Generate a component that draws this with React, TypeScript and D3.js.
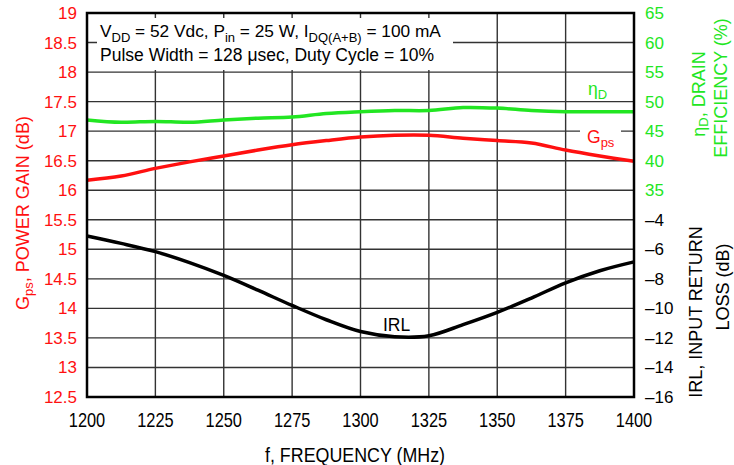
import React from "react";
import * as d3 from "d3";

const freq = [1200, 1212.5, 1225, 1237.5, 1250, 1262.5, 1275, 1287.5, 1300, 1312.5, 1325, 1337.5, 1350, 1362.5, 1375, 1387.5, 1400];
const gps = [16.17, 16.24, 16.37, 16.48, 16.58, 16.68, 16.77, 16.84, 16.9, 16.93, 16.93, 16.88, 16.84, 16.8, 16.68, 16.58, 16.49];
const eff = [46.9, 46.5, 46.65, 46.5, 46.9, 47.2, 47.4, 48.0, 48.3, 48.5, 48.5, 49.0, 48.9, 48.5, 48.3, 48.3, 48.3];
const irl = [-5.1, -5.6, -6.16, -6.9, -7.77, -8.77, -9.8, -10.77, -11.57, -11.92, -11.85, -11.1, -10.27, -9.3, -8.27, -7.45, -6.85];

const xTicks = [1200, 1225, 1250, 1275, 1300, 1325, 1350, 1375, 1400];
const gpsTicks = [12.5, 13, 13.5, 14, 14.5, 15, 15.5, 16, 16.5, 17, 17.5, 18, 18.5, 19];
const effTicks = [35, 40, 45, 50, 55, 60, 65];
const irlTicks = [-16, -14, -12, -10, -8, -6, -4];

const RED = "#ff1010";
const GREEN = "#22e622";
const FONT = "'Liberation Sans', Arial, Helvetica, sans-serif";

const L = 87, R = 634, T = 13, B = 397;

export default function App() {
  const x = d3.scaleLinear().domain([1200, 1400]).range([L, R]);
  const yG = d3.scaleLinear().domain([12.5, 19]).range([B, T]);
  const yE = d3.scaleLinear().domain([0, 65]).range([B, T]);
  const yI = d3.scaleLinear().domain([-16, 10]).range([B, T]);

  const mk = (vals: number[], ys: d3.ScaleLinear<number, number>) =>
    d3.line<number>().x((_, i) => x(freq[i])).y((v) => ys(v)).curve(d3.curveCatmullRom.alpha(0.5))(vals) || "";

  const fmt = (v: number) => (v < 0 ? "\u2013" + Math.abs(v) : String(v));

  return (
    <svg width={734} height={465} style={{ position: "absolute", left: 0, top: 0, background: "#fff" }} fontFamily={FONT}>
      <rect x={0} y={0} width={734} height={465} fill="#fff" />
      {/* grid */}
      {xTicks.map((t) => (
        <line key={"vx" + t} x1={x(t)} x2={x(t)} y1={T} y2={B} stroke="#333" strokeWidth={1.4} />
      ))}
      {gpsTicks.map((t) => (
        <line key={"hy" + t} x1={L} x2={R} y1={yG(t)} y2={yG(t)} stroke="#333" strokeWidth={1.4} />
      ))}
      {/* legend box */}
      <rect x={97} y={18} width={356} height={52} fill="#fff" />
      <text x={100} y={37} fontSize={17.3} fill="#000">
        V<tspan fontSize={13} dy={4.5}>DD</tspan>
        <tspan dy={-4.5}> = 52 Vdc, P</tspan>
        <tspan fontSize={13} dy={4.5}>in</tspan>
        <tspan dy={-4.5}> = 25 W, I</tspan>
        <tspan fontSize={13} dy={4.5}>DQ(A+B)</tspan>
        <tspan dy={-4.5}> = 100 mA</tspan>
      </text>
      <text x={100} y={61} fontSize={17.5} fill="#000">
        Pulse Width = 128 {"\u03bc"}sec, Duty Cycle = 10%
      </text>
      {/* curve labels */}
      <rect x={580} y={123} width={41} height={24} fill="#fff" />
      <text x={587} y={143} fontSize={17.5} fill={RED}>
        G<tspan fontSize={13} dy={4}>ps</tspan>
      </text>
      <text x={588} y={95} fontSize={17.5} fill={GREEN}>
        {"\u03b7"}<tspan fontSize={13} dy={4}>D</tspan>
      </text>
      <text x={383} y={331} fontSize={17.5} fill="#000">IRL</text>
      {/* curves */}
      <path d={mk(eff, yE)} fill="none" stroke={GREEN} strokeWidth={3.5} />
      <path d={mk(gps, yG)} fill="none" stroke={RED} strokeWidth={3.5} />
      <path d={mk(irl, yI)} fill="none" stroke="#000" strokeWidth={3.5} />
      {/* frame */}
      <rect x={L} y={T} width={R - L} height={B - T} fill="none" stroke="#000" strokeWidth={2.5} />
      {/* left ticks */}
      {gpsTicks.map((t) => (
        <text key={"lg" + t} x={77} y={yG(t) + 6} fontSize={17} fill={RED} textAnchor="end">
          {t}
        </text>
      ))}
      {effTicks.map((t) => (
        <text key={"re" + t} x={645} y={yE(t) + 6} fontSize={17} fill={GREEN}>
          {t}
        </text>
      ))}
      {irlTicks.map((t) => (
        <text key={"ri" + t} x={645} y={yI(t) + 6} fontSize={17} fill="#000">
          {fmt(t)}
        </text>
      ))}
      {xTicks.map((t) => (
        <g key={"xt" + t} transform={`translate(${x(t)},427) scale(0.82,1)`}>
          <text x={0} y={0} fontSize={20} fill="#000" textAnchor="middle">
            {t}
          </text>
        </g>
      ))}
      {/* axis titles */}
      <g transform="translate(355,462) scale(0.85,1)">
        <text x={0} y={0} fontSize={21} fill="#000" textAnchor="middle">
          f, FREQUENCY (MHz)
        </text>
      </g>
      <text transform="translate(29,213) rotate(-90)" fontSize={18} fill={RED} textAnchor="middle">
        G<tspan fontSize={13} dy={4}>ps</tspan>
        <tspan dy={-4}>, POWER GAIN (dB)</tspan>
      </text>
      <text transform="translate(705,94) rotate(-90)" fontSize={18} fill={GREEN} textAnchor="middle">
        {"\u03b7"}<tspan fontSize={13} dy={3}>D</tspan>
        <tspan dy={-3}>, DRAIN</tspan>
      </text>
      <text transform="translate(727,88) rotate(-90)" fontSize={18} fill={GREEN} textAnchor="middle">
        EFFICIENCY (%)
      </text>
      <text transform="translate(702,312) rotate(-90)" fontSize={18} fill="#000" textAnchor="middle">
        IRL, INPUT RETURN
      </text>
      <text transform="translate(729,287) rotate(-90)" fontSize={18} fill="#000" textAnchor="middle">
        LOSS (dB)
      </text>
    </svg>
  );
}
